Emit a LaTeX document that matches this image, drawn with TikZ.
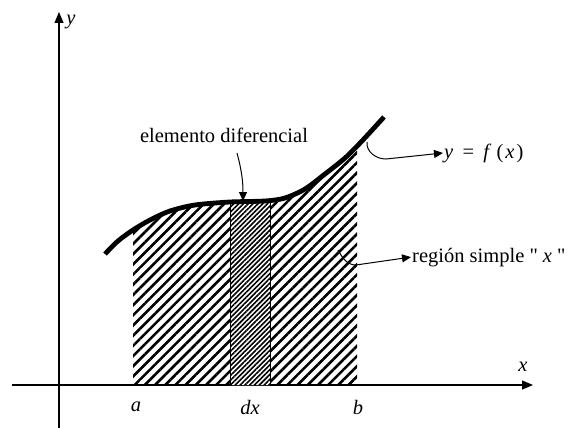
\documentclass[tikz,border=0pt]{standalone}
\usepackage{fontspec}
\setmainfont{Liberation Serif}
\usetikzlibrary{arrows.meta,patterns.meta}

\begin{document}
\begin{tikzpicture}[
        x=1pt, y=-1pt,
        font=\fontsize{20.5}{24}\selectfont,
        axis/.style={-{Triangle[length=11pt,width=9pt]}, line width=1.2pt},
        graph/.style={line width=4.8pt},
        coarsehatch/.style={pattern={Lines[angle=45,distance=7.2pt,line width=2.6pt]}},
        finehatch/.style={pattern={Lines[angle=45,distance=3.4pt,line width=1.6pt]}},
        striplines/.style={line width=1pt},
        lblarrow/.style={-{Triangle[length=9pt,width=8pt]}, line width=1pt},
        lbl/.style={inner sep=1pt}
    ]

    \useasboundingbox (0,0) rectangle (568,428);

    % Axes
    \coordinate (ybot) at (59,428);
    \coordinate (ytop) at (59,12);
    \coordinate (xleft) at (12,385);
    \coordinate (xright) at (533,385);
    \draw[axis] (ybot) -- (ytop);
    \draw[axis] (xleft) -- (xright);
    \node[lbl] (ylbl) at (71,22) {\textit{y}};
    \node[lbl] (xlbl) at (523,367) {\textit{x}};

    % Points of the graph
    \coordinate (c1) at (105,254);
    \coordinate (c2) at (118,241);
    \coordinate (c3) at (133,230);
    \coordinate (c4) at (150,220);
    \coordinate (c5) at (170,211);
    \coordinate (c6) at (195,205);
    \coordinate (c7) at (230,202);
    \coordinate (c8) at (265,201);
    \coordinate (c9) at (285,198);
    \coordinate (c10) at (305,189);
    \coordinate (c11) at (325,174);
    \coordinate (c12) at (345,158);
    \coordinate (c13) at (362,141);
    \coordinate (c14) at (384,117);

    % Hatched region between a and b
    \begin{scope}
        \clip (133,0) rectangle (357,385);
        \fill[coarsehatch] (c1 |- xleft) -- plot[smooth] coordinates {(c1) (c2) (c3) (c4) (c5) (c6) (c7) (c8) (c9) (c10) (c11) (c12) (c13) (c14)} -- (c14 |- xleft) -- cycle;
    \end{scope}

    % Differential strip
    \begin{scope}
        \clip (230,0) rectangle (270,385);
        \fill[white] (c1 |- xleft) -- plot[smooth] coordinates {(c1) (c2) (c3) (c4) (c5) (c6) (c7) (c8) (c9) (c10) (c11) (c12) (c13) (c14)} -- (c14 |- xleft) -- cycle;
        \fill[finehatch] (c1 |- xleft) -- plot[smooth] coordinates {(c1) (c2) (c3) (c4) (c5) (c6) (c7) (c8) (c9) (c10) (c11) (c12) (c13) (c14)} -- (c14 |- xleft) -- cycle;
    \end{scope}
    \draw[striplines] (230,385) -- (230,202);
    \draw[striplines] (270,385) -- (270,201);

    % Graph of f
    \draw[graph] plot[smooth] coordinates {(c1) (c2) (c3) (c4) (c5) (c6) (c7) (c8) (c9) (c10) (c11) (c12) (c13) (c14)};

    % Labels on the x axis
    \node[lbl] (alb) at (136,407) {\textit{a}};
    \node[lbl] (dxlb) at (250,407) {\textit{dx}};
    \node[lbl] (blb) at (358,407) {\textit{b}};

    % Callouts
    \node[lbl, anchor=base] (elem) at (224,142) {elemento diferencial};
    \coordinate (elemtop) at (237,153);
    \coordinate (elemtip) at (243,201);
    \draw[lblarrow] (elemtop) to[out=-75,in=90] (elemtip);

    \node[lbl, anchor=base west] (fxlbl) at (443,158) {\textit{y}\hspace{0.45em}=\hspace{0.45em}\textit{f}\hspace{0.25em}(\hspace{0.1em}\textit{x}\hspace{0.1em})};
    \coordinate (fxpt) at (367,142);
    \coordinate (fxbend) at (386,159);
    \draw[lblarrow] (fxpt) to[out=-95,in=180] (fxbend) -- (fxlbl.west);

    \node[lbl, anchor=base west] (reglbl) at (411,262) {región simple \textquotedbl\ \textit{x} \textquotedbl};
    \coordinate (regpt) at (338,250);
    \coordinate (regbend) at (356,265);
    \draw[lblarrow] (regpt) to[out=-60,in=180] (regbend) -- (reglbl.west);

\end{tikzpicture}
\end{document}
